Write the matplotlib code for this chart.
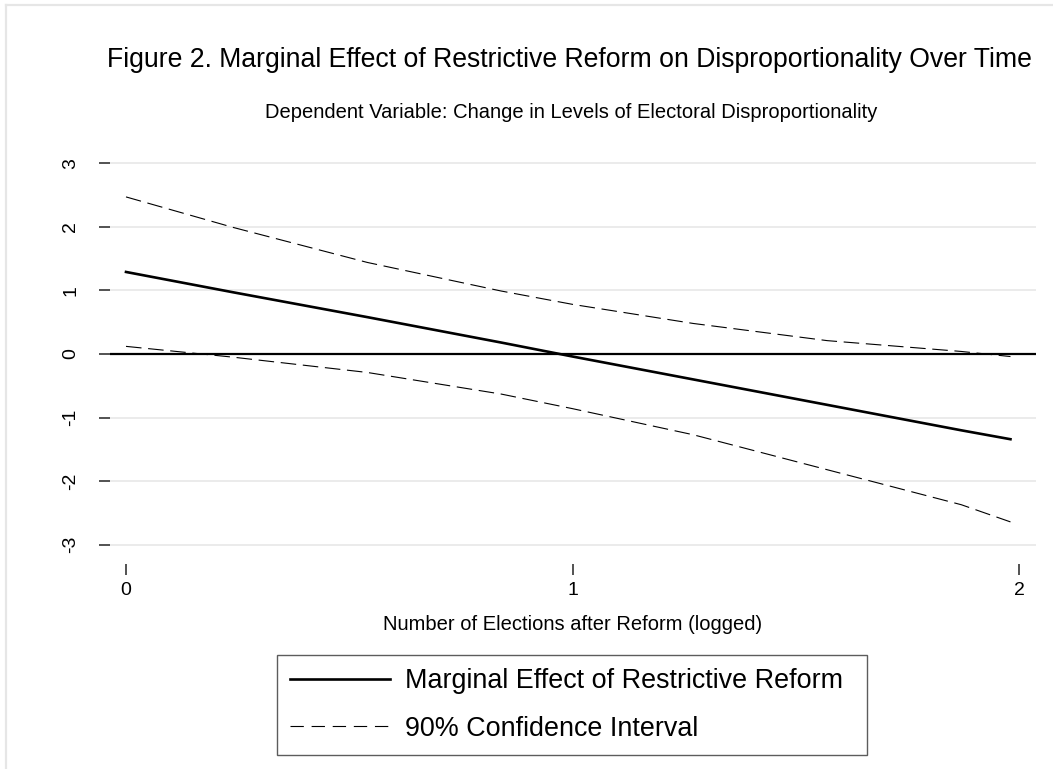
import matplotlib
matplotlib.use("Agg")
import matplotlib.pyplot as plt
from matplotlib.lines import Line2D

plt.rcParams['font.family'] = ['Liberation Sans', 'DejaVu Sans']

# Data
x_vals = [0.0, 0.24, 0.54, 0.84, 1.0, 1.27, 1.57, 1.87, 1.98]
marginal_effect = [1.29, 0.97, 0.58, 0.18, -0.04, -0.40, -0.80, -1.20, -1.34]
ci_upper = [2.47, 1.99, 1.44, 0.99, 0.78, 0.48, 0.21, 0.04, -0.04]
ci_lower = [0.12, -0.05, -0.29, -0.63, -0.86, -1.27, -1.82, -2.37, -2.64]
x_ticks = [0, 1, 2]
y_ticks = [-3, -2, -1, 0, 1, 2, 3]

title = "Figure 2. Marginal Effect of Restrictive Reform on Disproportionality Over Time"
subtitle = "Dependent Variable: Change in Levels of Electoral Disproportionality"
xlabel = "Number of Elections after Reform (logged)"
legend_labels = ["Marginal Effect of Restrictive Reform", "90% Confidence Interval"]

W, H = 1053, 769
fig = plt.figure(figsize=(W / 100, H / 100), dpi=100)
fig.patch.set_facecolor('white')

# outer light border (top and left visible)
fig.add_artist(Line2D([6 / W, 6 / W], [0, 1 - 5 / H], transform=fig.transFigure,
                      color='#e6e6e6', lw=1.6))
fig.add_artist(Line2D([6 / W, 1], [1 - 5 / H, 1 - 5 / H], transform=fig.transFigure,
                      color='#e6e6e6', lw=1.6))

ax_l, ax_r = 110, 1036
ax_t, ax_b = 152, 556
ax = fig.add_axes([ax_l / W, 1 - ax_b / H, (ax_r - ax_l) / W, (ax_b - ax_t) / H])

px_per_x = 446.7
x0 = (ax_l - 126) / px_per_x
x1 = (ax_r - 126) / px_per_x
ax.set_xlim(x0, x1)
ylim = (354 - ax_b) / 63.6, (354 - ax_t) / 63.6
ax.set_ylim(ylim)

for s in ax.spines.values():
    s.set_color('none')
ax.spines['bottom'].set_position(('outward', 6))

ax.set_yticks(y_ticks)
ax.set_yticklabels([str(v) for v in y_ticks], rotation=90, va='center')
ax.set_xticks(x_ticks)
ax.set_xticklabels([str(v) for v in x_ticks])
ax.tick_params(axis='y', length=8, width=1.3, color='#444444', labelsize=14, pad=14)
ax.tick_params(axis='x', length=8, width=1.3, color='#444444', labelsize=14, pad=5)

ax.grid(axis='y', color='#e8e8e8', lw=1.2)
ax.set_axisbelow(True)

ax.axhline(0, color='black', lw=1.6, zorder=2)
ax.plot(x_vals, ci_upper, color='black', lw=0.8, linestyle=(0, (14, 6)), zorder=3)
ax.plot(x_vals, ci_lower, color='black', lw=0.8, linestyle=(0, (14, 6)), zorder=3)
ax.plot(x_vals, marginal_effect, color='black', lw=1.9, zorder=4)

ax.set_xlabel(xlabel, fontsize=14.5, labelpad=11)

fig.text(569 / W, 1 - 60 / H, title, ha='center', va='center', fontsize=19.2)
fig.text(571 / W, 1 - 113 / H, subtitle, ha='center', va='center', fontsize=14.5)

handles = [Line2D([], [], color='black', lw=1.9),
           Line2D([], [], color='black', lw=0.8, linestyle=(0, (12, 7)))]
leg = fig.legend(handles, legend_labels, loc='center',
                 bbox_to_anchor=(277 / W, 1 - 756 / H, (867 - 277) / W, (756 - 654) / H),
                 mode='expand', fontsize=19.4, handlelength=3.7, handletextpad=0.55,
                 labelspacing=0.8, borderpad=0.5, fancybox=False, frameon=True,
                 borderaxespad=0)
leg.get_frame().set_edgecolor('#333333')
leg.get_frame().set_linewidth(1.0)

fig.savefig('out.png', dpi=100, facecolor='white')
